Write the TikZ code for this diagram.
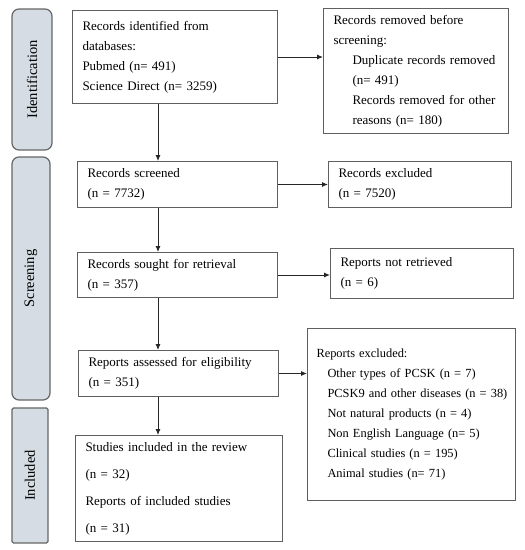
\documentclass[tikz,border=0pt]{standalone}
\usepackage{fontspec}
\setmainfont{Liberation Serif}
\usepackage{tikz}
\usetikzlibrary{arrows.meta}
\usepackage{xcolor}

\definecolor{stagefill}{HTML}{D5DCE4}
\definecolor{stageline}{HTML}{666666}
\definecolor{boxline}{HTML}{5F5F5F}

\tikzset{
  flowbox/.style={draw=boxline, line width=1pt, anchor=north west, align=left,
    inner xsep=10pt, inner ysep=0pt, font=\fontsize{13}{20}\selectfont},
  stage/.style={draw=stageline, fill=stagefill, line width=1.2pt, rounded corners=7pt,
    rotate=90, font=\fontsize{14.5}{16}\selectfont},
  flowarrow/.style={-{Latex[length=6pt,width=5pt]}, line width=0.9pt, draw=black!85}
}

\begin{document}
\begin{tikzpicture}[x=1pt,y=-1pt]
        \useasboundingbox (0,0) rectangle (525,550);
        % stages
        \node[stage, minimum width=141, minimum height=40] (sid) at (32,79.5) {Identification};
        \node[stage, minimum width=243, minimum height=38] (sscr) at (31,278.5) {Screening};
        \node[stage, minimum width=135, minimum height=36, rounded corners=1.5pt] (sinc) at (30,475.5) {Included};
        % boxes
        \node[flowbox, text width=185, minimum height=93] (ident) at (72,10)
        {Records identified from\\ databases:\\ Pubmed (n= 491)\\ Science Direct (n= 3259)};
        \node[flowbox, text width=165, minimum height=125] (removed) at (323,8)
        {Records removed before\\ screening:\\
        \hspace*{19pt}Duplicate records removed\\ \hspace*{19pt}(n= 491)\\
        \hspace*{19pt}Records removed for other\\ \hspace*{19pt}reasons (n= 180)};
        \node[flowbox, text width=180, minimum height=46] (screened) at (77,161)
        {Records screened\\ (n = 7732)};
        \node[flowbox, text width=163, minimum height=46] (excluded) at (328,161)
        {Records excluded\\ (n = 7520)};
        \node[flowbox, text width=180, minimum height=45] (sought) at (77,252)
        {Records sought for retrieval\\ (n = 357)};
        \node[flowbox, text width=163, minimum height=50] (notretr) at (330,248)
        {Reports not retrieved\\ (n = 6)};
        \node[flowbox, text width=180, minimum height=46] (assessed) at (78,350)
        {Reports assessed for eligibility\\ (n = 351)};
        \node[flowbox, text width=190, minimum height=172, inner xsep=9pt,
          font=\fontsize{12.4}{20}\selectfont] (repexcl) at (307,328)
        {Reports excluded:\\
        \hspace*{11pt}Other types of PCSK (n = 7)\\
        \hspace*{11pt}\mbox{PCSK9 and other diseases (n = 38)}\\
        \hspace*{11pt}Not natural products (n = 4)\\
        \hspace*{11pt}Non English Language (n= 5)\\
        \hspace*{11pt}Clinical studies (n = 195)\\
        \hspace*{11pt}Animal studies (n= 71)};
        \node[flowbox, text width=187, minimum height=106, font=\fontsize{13}{27}\selectfont] (included) at (75,435)
        {Studies included in the review\\ (n = 32)\\ Reports of included studies\\ (n = 31)};
        % arrows
        \coordinate (spine) at (158,0);
        \foreach \a/\b in {ident/screened,screened/sought,sought/assessed,assessed/included}
        \draw[flowarrow] (spine |- \a.south) -- (spine |- \b.north);
        \foreach \a/\b in {ident/removed,screened/excluded,sought/notretr,assessed/repexcl}
        \draw[flowarrow] (\a.east) -- (\a.east -| \b.west);
\end{tikzpicture}
\end{document}
